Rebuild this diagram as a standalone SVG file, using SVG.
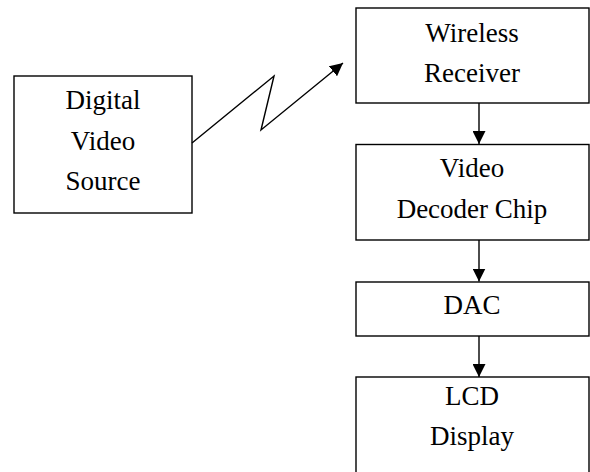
<svg xmlns="http://www.w3.org/2000/svg" width="590" height="472" viewBox="0 0 590 472">
<style>
.box{fill:#fff;stroke:#000;stroke-width:1.4}
.lbl{font-family:"Liberation Serif","Times New Roman",serif;font-size:27px;fill:#000;text-anchor:middle}
.conn{fill:none;stroke:#000;stroke-width:1.4}
</style>
<defs>
<marker id="ah" viewBox="0 0 13 13" refX="13" refY="6.5" markerWidth="13" markerHeight="13" markerUnits="userSpaceOnUse" orient="auto">
<path d="M0,0 L13,6.5 L0,13 Z" fill="#000"/>
</marker>
</defs>
<rect width="590" height="472" fill="#fff"/>
<g id="source">
<rect class="box" x="14" y="76" width="178" height="137"/>
<text class="lbl" x="103" y="109">Digital</text>
<text class="lbl" x="103" y="150">Video</text>
<text class="lbl" x="103" y="190">Source</text>
</g>
<g id="receiver">
<rect class="box" x="356" y="8" width="233" height="95"/>
<text class="lbl" x="472" y="42">Wireless</text>
<text class="lbl" x="472" y="82">Receiver</text>
</g>
<g id="decoder">
<rect class="box" x="356" y="144.5" width="233" height="95.5"/>
<text class="lbl" x="472" y="177">Video</text>
<text class="lbl" x="472" y="218">Decoder Chip</text>
</g>
<g id="dac">
<rect class="box" x="356" y="282" width="233" height="54"/>
<text class="lbl" x="472" y="314">DAC</text>
</g>
<g id="lcd">
<rect class="box" x="356" y="377" width="233" height="110"/>
<text class="lbl" x="472" y="405">LCD</text>
<text class="lbl" x="472" y="445">Display</text>
</g>
<g id="connectors">
<polyline class="conn" points="192,143 274,76 261,130 343,63" marker-end="url(#ah)"/>
<line class="conn" x1="479" y1="103" x2="479" y2="144" marker-end="url(#ah)"/>
<line class="conn" x1="479" y1="240" x2="479" y2="281.5" marker-end="url(#ah)"/>
<line class="conn" x1="479" y1="336" x2="479" y2="377" marker-end="url(#ah)"/>
</g>
</svg>
